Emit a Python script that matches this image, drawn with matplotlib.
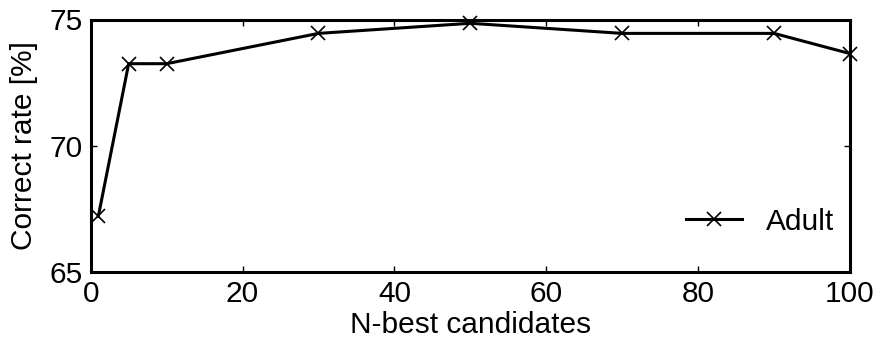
import matplotlib
matplotlib.use("Agg")
import matplotlib.pyplot as plt

# N-best size vs. correct rate
n_best = [1, 5, 10, 30, 50, 70, 90, 100]
correct_rate = [67.2, 73.25, 73.25, 74.45, 74.85, 74.45, 74.45, 73.65]

plt.rcParams['font.family'] = ['Liberation Sans', 'DejaVu Sans']

fig = plt.figure(figsize=(8.83, 3.42), dpi=100)
ax = fig.add_axes([90.7 / 883, 1 - 272 / 342, (850 - 90.7) / 883, (272 - 19.5) / 342])

ax.plot(n_best, correct_rate, color='black', linewidth=2.2, marker='x',
        markersize=10, markeredgewidth=1.2, label='Adult', clip_on=False)

ax.set_xlim(0, 100)
ax.set_ylim(65, 75)
ax.set_xticks([0, 20, 40, 60, 80, 100])
ax.set_yticks([65, 70, 75])
ax.tick_params(direction='in', length=4, width=1, top=True, right=True,
               labelsize=21.5, pad=6)
for sp in ax.spines.values():
    sp.set_linewidth(2.2)

ax.set_xlabel('N-best candidates', fontsize=21.5, labelpad=2)
ax.set_ylabel('Correct rate [%]', fontsize=21.5, labelpad=8)

ax.legend(loc='lower right', frameon=False, fontsize=21.5, handlelength=1.9,
          handletextpad=0.8, borderaxespad=0.3, bbox_to_anchor=(1.007, 0.06))

fig.savefig('out.png', dpi=100)
